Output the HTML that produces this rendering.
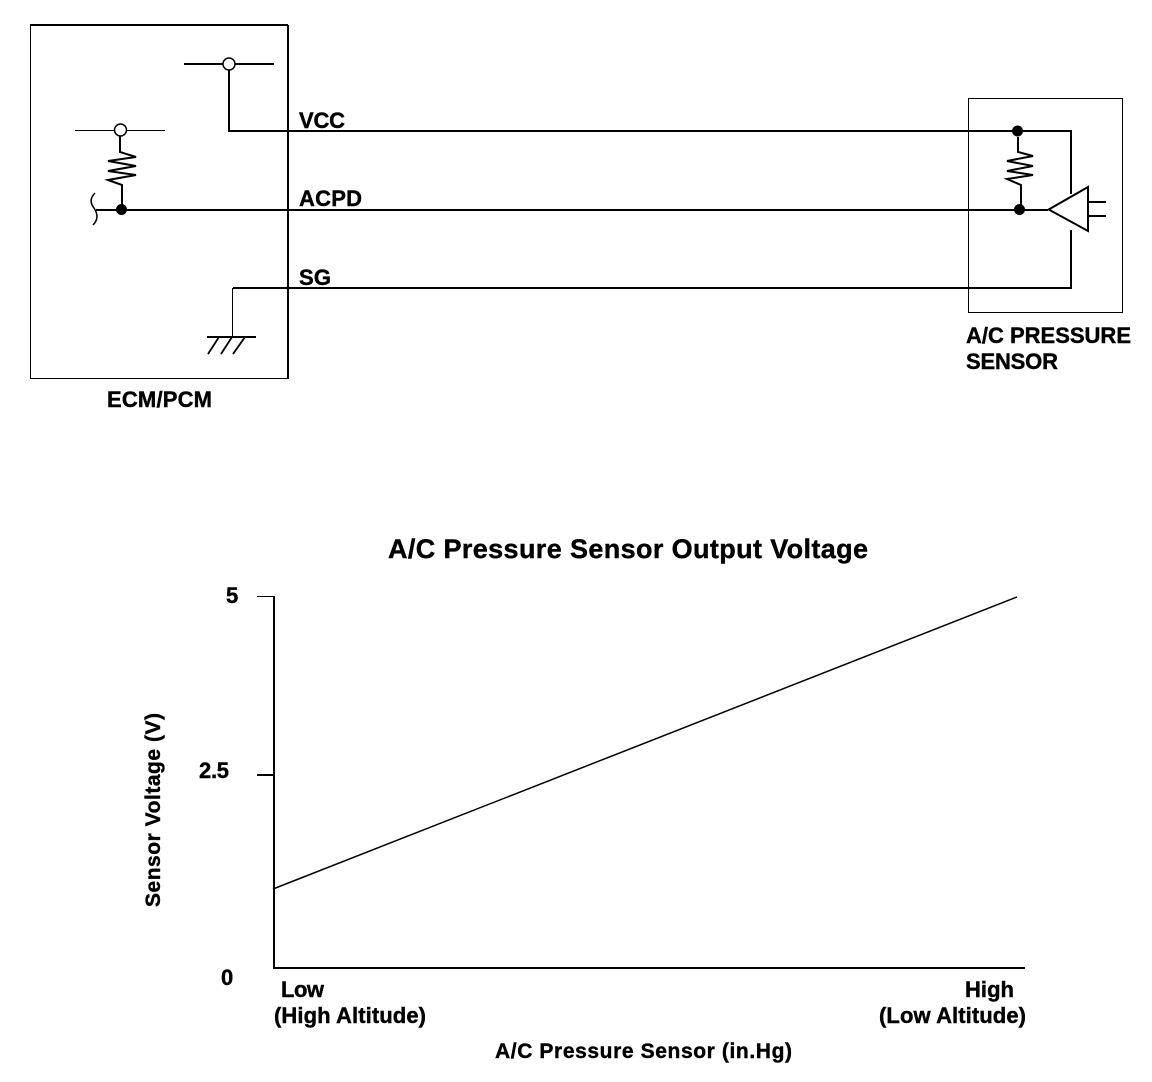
<!DOCTYPE html>
<html>
<head>
<meta charset="utf-8">
<style>
html,body{margin:0;padding:0;background:#fff;}
svg{display:block;}
text{font-family:"Liberation Sans",Arial,sans-serif;font-weight:bold;fill:#000;stroke:#000;stroke-width:.4;}
</style>
</head>
<body>
<svg width="1152" height="1082" viewBox="0 0 1152 1082" xmlns="http://www.w3.org/2000/svg">
<rect width="1152" height="1082" fill="#fff"/>
<g fill="none" stroke="#000" stroke-width="2" shape-rendering="crispEdges">
  <rect x="30.5" y="25.5" width="258" height="353" stroke-width="1"/>
  <path d="M288 25V378"/>
  <path d="M30 25H288"/>
  <rect x="968.5" y="98.5" width="154" height="214" stroke-width="1"/>
  <path d="M184 64H274"/>
  <path d="M229 64V131H1071V194"/>
  <path d="M75 130.500H165" stroke-width="1"/>
  <path d="M96 210H1048"/>
  <path d="M1071 230V288H233"/>
  <path d="M232.500 288V337" stroke-width="1"/>
  <path d="M207 337H256"/>
  <path d="M1088 202H1106M1088 216H1106"/>
  <path d="M274 596V968H1025"/>
  <path d="M257 596.500H274" stroke-width="1"/>
  <path d="M257 775H274"/>
</g>
<g fill="none" stroke="#000" stroke-width="2">
  <path d="M208 354L219 337M221 354L232 337M233 354L245 337" stroke-width="1.800"/>
  <path d="M120 136V152L136 157L108 161L136 166L108 171L136 175L108 180L122 185V209"/>
  <path d="M1018 137V152L1033 156L1007 161L1033 166L1007 171L1033 175L1007 179L1021 185V207"/>
  <path d="M95 193C90 198 90 203 94 208C98 214 98 220 93 225" stroke-width="1.500"/>
  <path d="M1048.700 209.500L1088 187V231Z" fill="#fff"/>
  <path d="M273 889L1017 597" stroke-width="1.500"/>
</g>
<circle cx="229" cy="64" r="6" fill="#fff" stroke="#000" stroke-width="1.500"/>
<circle cx="120.500" cy="130" r="6" fill="#fff" stroke="#000" stroke-width="1.500"/>
<circle cx="121.500" cy="209.500" r="5.500" fill="#000"/>
<circle cx="1017.500" cy="131" r="5.500" fill="#000"/>
<circle cx="1019.500" cy="209.500" r="5.500" fill="#000"/>

<text x="299" y="128" font-size="22" textLength="46">VCC</text>
<text x="299" y="206" font-size="22" textLength="63">ACPD</text>
<text x="299" y="285" font-size="22" textLength="32">SG</text>
<text x="107" y="407" font-size="22" textLength="105">ECM/PCM</text>
<text x="966" y="343" font-size="22" textLength="165">A/C PRESSURE</text>
<text x="966" y="369" font-size="22" textLength="92">SENSOR</text>

<text x="388" y="558" font-size="27" textLength="480">A/C Pressure Sensor Output Voltage</text>
<text x="226" y="603" font-size="22">5</text>
<text x="199" y="778" font-size="22" textLength="30">2.5</text>
<text x="221" y="985" font-size="22">0</text>
<text transform="translate(160 907) rotate(-90)" font-size="21" textLength="194">Sensor Voltage (V)</text>
<text x="281" y="997" font-size="22" textLength="43">Low</text>
<text x="274" y="1023" font-size="22" textLength="152">(High Altitude)</text>
<text x="965" y="997" font-size="22" textLength="49">High</text>
<text x="879" y="1023" font-size="22" textLength="147">(Low Altitude)</text>
<text x="495" y="1058" font-size="21" textLength="297">A/C Pressure Sensor (in.Hg)</text>
</svg>
</body>
</html>
